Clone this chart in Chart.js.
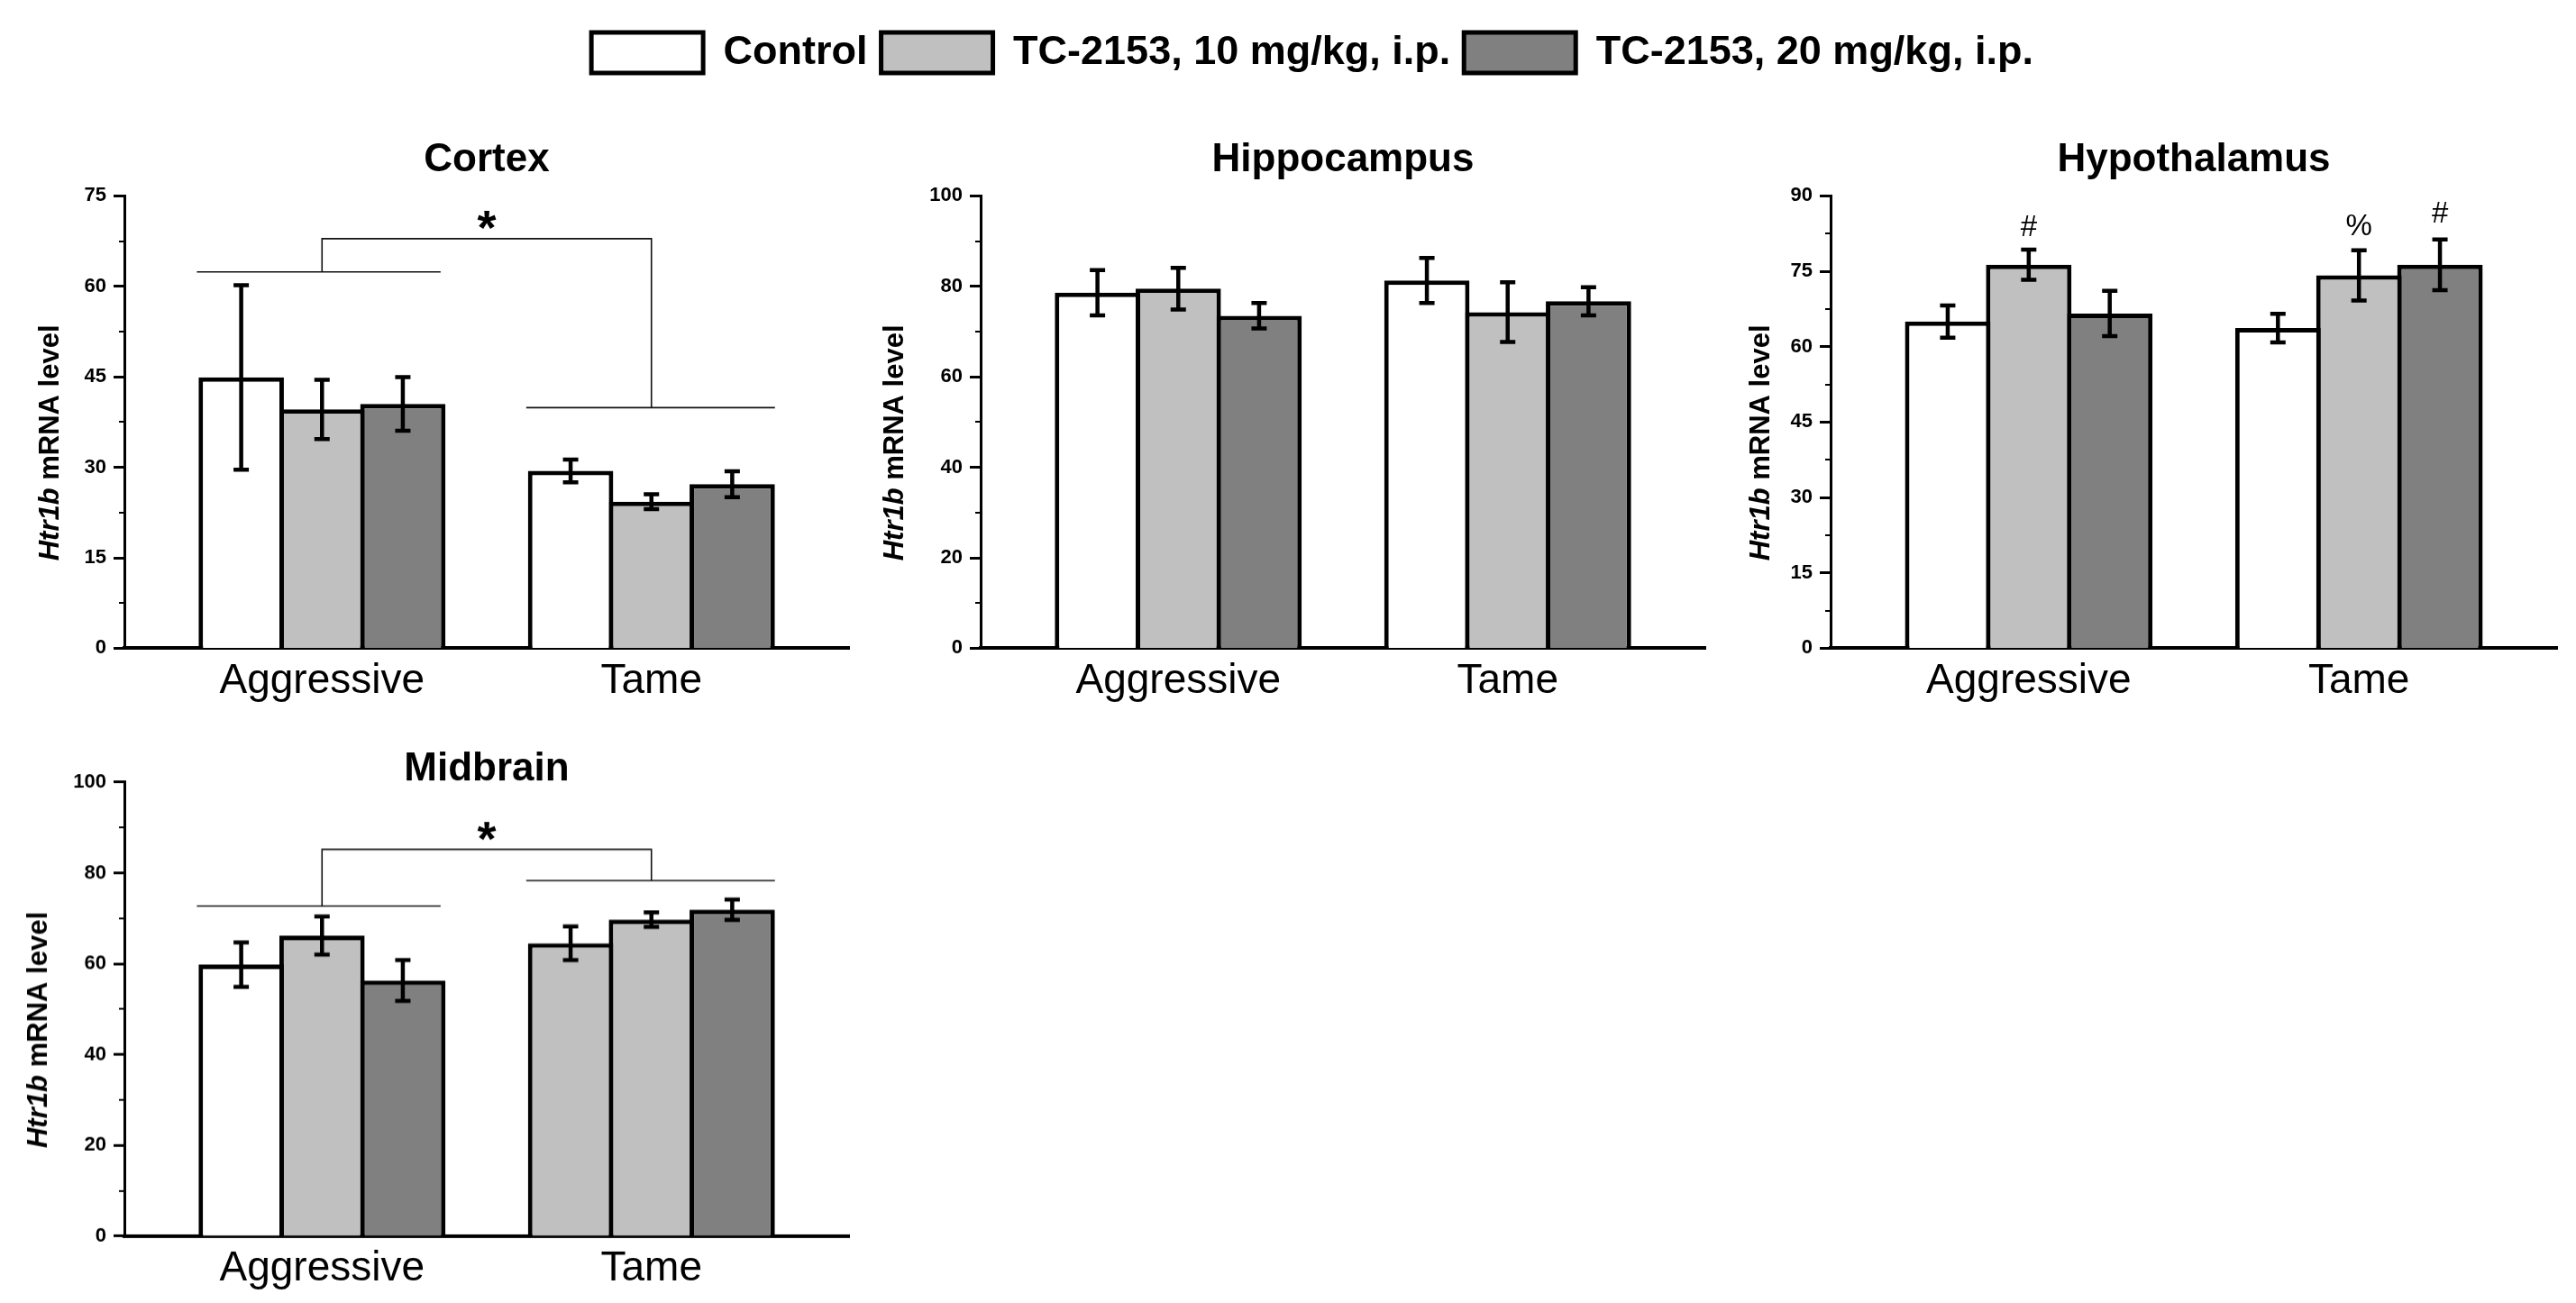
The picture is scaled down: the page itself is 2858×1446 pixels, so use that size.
<!DOCTYPE html>
<html>
<head>
<meta charset="utf-8">
<title>Htr1b mRNA level</title>
<script src="https://cdn.jsdelivr.net/npm/chart.js@4.4.1/dist/chart.umd.min.js"></script>
<style>
  body { margin: 0; width: 2858px; height: 1446px; background: #fff; overflow: hidden; position: relative; }
  .holder { position: absolute; left: 0; top: 0; width: 1200px; height: 800px; }
</style>
</head>
<body>
<div class="holder" id="boxCortex"><canvas id="cortexChart"></canvas></div>
<div class="holder" id="boxHypo"><canvas id="hypoChart"></canvas></div>
<div class="holder" id="boxMid"><canvas id="midChart"></canvas></div>
<div class="holder" id="boxHippo"><canvas id="hippoChart"></canvas></div>
<script>
var categories = ['Aggressive', 'Tame'];
var seriesNames = ['Control', 'TC-2153, 10 mg/kg, i.p.', 'TC-2153, 20 mg/kg, i.p.'];

// cortex
var cortexControl = [44.9, 29.4];
var cortexTc10 = [39.6, 24.3];
var cortexTc20 = [40.5, 27.2];
var cortexControlErr = [15.3, 1.9];
var cortexTc10Err = [4.9, 1.25];
var cortexTc20Err = [4.45, 2.15];
var cortexAxis = [0, 75, 15];
var cortexBracket = [62.4, 67.9, 39.9];
var cortexStar = 71.6;

// hippocampus
var hippoControl = [78.6, 81.3];
var hippoTc10 = [79.5, 74.3];
var hippoTc20 = [73.5, 76.7];
var hippoControlErr = [5.0, 5.0];
var hippoTc10Err = [4.6, 6.6];
var hippoTc20Err = [2.8, 3.1];
var hippoAxis = [0, 100, 20];

// hypothalamus
var hypoControl = [65.0, 63.7];
var hypoTc10 = [76.3, 74.2];
var hypoTc20 = [66.6, 76.3];
var hypoControlErr = [3.2, 2.85];
var hypoTc10Err = [3.0, 5.0];
var hypoTc20Err = [4.5, 5.05];
var hypoAxis = [0, 90, 15];
var hypoMarkSeries = [1, 1, 2];
var hypoMarkCats = [0, 1, 1];
var hypoMarkText = ['#', '%', '#'];
var hypoMarkLevel = [83.6, 83.8, 86.4];

// midbrain
var midControl = [59.8, 64.5];
var midTc10 = [66.2, 69.7];
var midTc20 = [56.3, 71.9];
var midControlErr = [4.9, 3.7];
var midTc10Err = [4.2, 1.6];
var midTc20Err = [4.5, 2.25];
var midAxis = [0, 100, 20];
var midBracket = [72.7, 85.2, 78.3];
var midStar = 90.2;

// x extents of the group lines of a bracket
var bracketSpan = [0.62, 1.36, 1.62, 2.375];

var fontFamily = '"Liberation Sans", Arial, sans-serif';
var fills = ['#ffffff', '#c0c0c0', '#808080'];

var panels = {};

var extrasPlugin = {
  id: 'extras',
  afterDraw: function(chart) {
    var info = panels[chart.canvas.id];
    var ctx = chart.ctx, xs = chart.scales.x, ys = chart.scales.y, area = chart.chartArea;
    ctx.save();
    ctx.strokeStyle = '#000';
    ctx.fillStyle = '#000';

    // small ticks between the labelled ones
    ctx.lineWidth = 2;
    for (var v = info.axis[2] / 2; v < info.axis[1]; v += info.axis[2]) {
      var py = Math.round(ys.getPixelForValue(v));
      ctx.beginPath();
      ctx.moveTo(area.left - 6, py);
      ctx.lineTo(area.left, py);
      ctx.stroke();
    }

    // error bars
    ctx.lineWidth = 4.5;
    chart.data.datasets.forEach(function(ds, i) {
      chart.getDatasetMeta(i).data.forEach(function(bar, j) {
        var top = ys.getPixelForValue(ds.data[j].y + ds.errors[j]);
        var bot = ys.getPixelForValue(ds.data[j].y - ds.errors[j]);
        ctx.beginPath();
        ctx.moveTo(bar.x, top); ctx.lineTo(bar.x, bot);
        ctx.moveTo(bar.x - 8.5, top); ctx.lineTo(bar.x + 8.5, top);
        ctx.moveTo(bar.x - 8.5, bot); ctx.lineTo(bar.x + 8.5, bot);
        ctx.stroke();
      });
    });

    // significance bracket
    if (info.bracket) {
      var yl = ys.getPixelForValue(info.bracket[0]);
      var yt = ys.getPixelForValue(info.bracket[1]);
      var yr = ys.getPixelForValue(info.bracket[2]);
      var c1 = xs.getPixelForValue(1), c2 = xs.getPixelForValue(2);
      ctx.lineWidth = 1.6;
      ctx.strokeStyle = '#111';
      ctx.beginPath();
      ctx.moveTo(xs.getPixelForValue(bracketSpan[0]), yl);
      ctx.lineTo(xs.getPixelForValue(bracketSpan[1]), yl);
      ctx.moveTo(c1, yl); ctx.lineTo(c1, yt); ctx.lineTo(c2, yt); ctx.lineTo(c2, yr);
      ctx.moveTo(xs.getPixelForValue(bracketSpan[2]), yr);
      ctx.lineTo(xs.getPixelForValue(bracketSpan[3]), yr);
      ctx.stroke();
      ctx.font = 'bold 54px ' + fontFamily;
      ctx.textAlign = 'center';
      ctx.textBaseline = 'alphabetic';
      ctx.fillText('*', xs.getPixelForValue(1.5), ys.getPixelForValue(info.star) + 0.58 * 54);
    }

    // # and % marks above bars
    if (info.marks) {
      ctx.font = '33px ' + fontFamily;
      ctx.textAlign = 'center';
      ctx.textBaseline = 'middle';
      info.marks.text.forEach(function(t, k) {
        var bar = chart.getDatasetMeta(info.marks.series[k]).data[info.marks.cats[k]];
        ctx.fillText(t, bar.x, ys.getPixelForValue(info.marks.level[k]));
      });
    }

    // y axis title, gene name in italics
    var cx = area.left - info.titleGap, cy = (area.top + area.bottom) / 2 + 23;
    ctx.translate(cx, cy);
    ctx.rotate(-Math.PI / 2);
    ctx.textAlign = 'left';
    ctx.textBaseline = 'middle';
    ctx.font = 'italic bold 31px ' + fontFamily;
    var w1 = ctx.measureText('Htr1b').width;
    ctx.font = 'bold 31px ' + fontFamily;
    var w2 = ctx.measureText(' mRNA level').width;
    var sx = -(w1 + w2) / 2;
    ctx.font = 'italic bold 31px ' + fontFamily;
    ctx.fillText('Htr1b', sx, 0);
    ctx.font = 'bold 31px ' + fontFamily;
    ctx.fillText(' mRNA level', sx + w1, 0);
    ctx.restore();
  }
};

function buildChart(id, title, values, errors, colors, info) {
  panels[id] = info;
  var datasets = values.map(function(vals, i) {
    return {
      label: seriesNames[i],
      data: vals.map(function(v, j) { return {x: j + 1, y: v}; }),
      errors: errors[i],
      backgroundColor: colors[i],
      borderColor: '#000000',
      borderWidth: 5,
      categoryPercentage: 0.736,
      barPercentage: 1.056
    };
  });

  var scales = {
    x: {
      type: 'linear',
      min: 0.4,
      max: 2.6,
      bounds: 'data',
      offset: false,
      afterBuildTicks: function(scale) {
        scale.ticks = categories.map(function(c, k) { return {value: k + 1}; });
      },
      afterFit: function(scale) { scale.height = 100; },
      grid: { drawOnChartArea: false, drawTicks: false, offset: false },
      border: { color: '#000', width: 4 },
      ticks: {
        padding: 9, color: '#000', maxRotation: 0, autoSkip: false,
        font: { family: fontFamily, size: 46 },
        callback: function(v) { return categories[v - 1]; }
      }
    },
    y: {
      type: 'linear',
      min: info.axis[0],
      max: info.axis[1],
      afterFit: function(scale) { scale.width = info.axisWidth; },
      grid: { drawOnChartArea: false, drawTicks: true, tickLength: 12, tickWidth: 3, tickColor: '#000' },
      border: { color: '#000', width: 3 },
      ticks: {
        stepSize: info.axis[2], padding: 8, color: '#000',
        font: { family: fontFamily, size: 22, weight: 'bold' }
      }
    }
  };
  if (info.rightSpace) {
    scales.yPad = {
      axis: 'y', position: 'right', display: true,
      grid: { display: false }, border: { display: false }, ticks: { display: false },
      afterFit: function(scale) { scale.width = info.rightSpace; }
    };
  }

  var legendOpts = { display: false };
  if (info.legend) {
    legendOpts = {
      display: true,
      position: 'top',
      weight: 3000,
      labels: {
        boxWidth: 124, boxHeight: 45, padding: 15, color: '#000',
        font: { family: fontFamily, size: 45, weight: 'bold' }
      }
    };
  }

  var chart = new Chart(document.getElementById(id), {
    type: 'bar',
    data: { datasets: datasets },
    options: {
      responsive: true,
      maintainAspectRatio: false,
      animation: false,
      devicePixelRatio: 1,
      events: [],
      layout: { padding: { left: 0, right: info.rightPad || 0, top: 0, bottom: 0 } },
      scales: scales,
      plugins: {
        legend: legendOpts,
        tooltip: { enabled: false },
        title: {
          display: true,
          text: title,
          fullSize: false,
          color: '#000',
          font: { family: fontFamily, size: 44, weight: 'bold' },
          padding: info.titlePad
        }
      }
    },
    plugins: [extrasPlugin]
  });
  return chart;
}

// move and size each holder so the plot area lands where it sits in the figure
function pinChart(chart, holderId, target) {
  var holder = document.getElementById(holderId);
  for (var pass = 0; pass < 3; pass++) {
    var a = chart.chartArea;
    holder.style.width = (holder.offsetWidth + target.w - (a.right - a.left)) + 'px';
    holder.style.height = (holder.offsetHeight + target.h - (a.bottom - a.top)) + 'px';
    chart.resize();
  }
  a = chart.chartArea;
  holder.style.left = (target.x - a.left) + 'px';
  holder.style.top = (target.y - a.top) + 'px';
}

var cortexChart = buildChart('cortexChart', 'Cortex',
  [cortexControl, cortexTc10, cortexTc20],
  [cortexControlErr, cortexTc10Err, cortexTc20Err],
  fills,
  { axis: cortexAxis, axisWidth: 130, rightPad: 10, titleGap: 82, titlePad: {top: 10, bottom: 13.6},
    bracket: cortexBracket, star: cortexStar });
pinChart(cortexChart, 'boxCortex', {x: 138, y: 217, w: 804, h: 502});

var hypoChart = buildChart('hypoChart', 'Hypothalamus',
  [hypoControl, hypoTc10, hypoTc20],
  [hypoControlErr, hypoTc10Err, hypoTc20Err],
  fills,
  { axis: hypoAxis, axisWidth: 130, rightPad: 10, titleGap: 77, titlePad: {top: 10, bottom: 13.6},
    marks: { series: hypoMarkSeries, cats: hypoMarkCats, text: hypoMarkText, level: hypoMarkLevel } });
pinChart(hypoChart, 'boxHypo', {x: 2031, y: 217, w: 806, h: 502});

var midChart = buildChart('midChart', 'Midbrain',
  [midControl, midTc10, midTc20],
  [midControlErr, midTc10Err, midTc20Err],
  [['#ffffff', '#c0c0c0'], fills[1], fills[2]],
  { axis: midAxis, axisWidth: 130, rightPad: 10, titleGap: 95, titlePad: {top: 10, bottom: -11.9},
    bracket: midBracket, star: midStar });
pinChart(midChart, 'boxMid', {x: 138, y: 868, w: 804, h: 503});

var hippoChart = buildChart('hippoChart', 'Hippocampus',
  [hippoControl, hippoTc10, hippoTc20],
  [hippoControlErr, hippoTc10Err, hippoTc20Err],
  fills,
  { axis: hippoAxis, axisWidth: 488, rightSpace: 420, titleGap: 95, titlePad: {top: 60, bottom: 13.6},
    legend: true });
pinChart(hippoChart, 'boxHippo', {x: 1088, y: 217, w: 804, h: 502});
</script>
</body>
</html>
